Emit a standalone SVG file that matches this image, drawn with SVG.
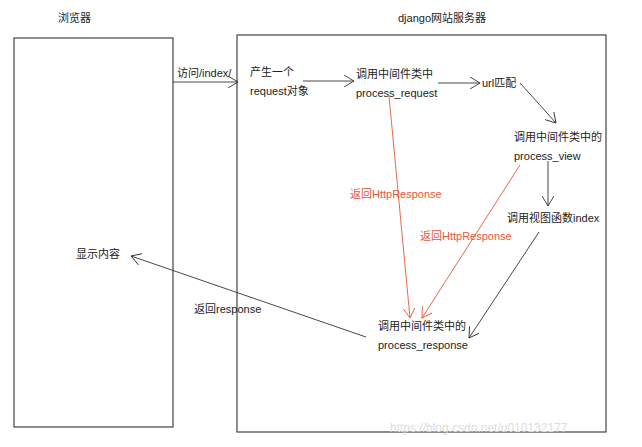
<svg xmlns="http://www.w3.org/2000/svg" width="642" height="447" viewBox="0 0 642 447">
<style>
text{font-family:"Liberation Sans","Noto Sans CJK SC",sans-serif;font-size:11px;fill:#222}
.red{fill:#e8553a}
.box{fill:none;stroke:#444;stroke-width:1.2}
.c{stroke:#333;stroke-width:0.9;fill:none}
.r{stroke:#e8553a;stroke-width:0.9;fill:none}
</style>
<defs>
<marker id="a" markerWidth="12" markerHeight="12" refX="10" refY="6" orient="auto" markerUnits="userSpaceOnUse"><path d="M0,0 L10,6 L0,12" fill="none" stroke="#333" stroke-width="0.9"/></marker>
<marker id="ar" markerWidth="12" markerHeight="12" refX="10" refY="6" orient="auto" markerUnits="userSpaceOnUse"><path d="M0,0 L10,6 L0,12" fill="none" stroke="#e8553a" stroke-width="0.9"/></marker>
</defs>
<rect width="642" height="447" fill="#fff"/>
<g id="browser"><rect class="box" x="14" y="38" width="159" height="389"/><text x="58" y="22">浏览器</text><text x="76" y="258">显示内容</text></g>
<g id="server"><rect class="box" x="237" y="35" width="369" height="397"/><text x="398" y="22">django网站服务器</text></g>
<g id="n-request"><text x="250" y="76">产生一个</text><text x="250" y="95">request对象</text></g>
<g id="n-preq"><text x="356" y="78">调用中间件类中</text><text x="356" y="97">process_request</text></g>
<g id="n-url"><text x="482" y="87">url匹配</text></g>
<g id="n-pview"><text x="514" y="141">调用中间件类中的</text><text x="514" y="160">process_view</text></g>
<g id="n-view"><text x="507" y="222">调用视图函数index</text></g>
<g id="n-presp"><text x="378" y="330">调用中间件类中的</text><text x="378" y="349">process_response</text></g>
<g id="connectors">
<line class="c" x1="173" y1="82" x2="238" y2="82" marker-end="url(#a)"/>
<text x="177" y="77">访问/index/</text>
<line class="c" x1="303" y1="81" x2="354" y2="81" marker-end="url(#a)"/>
<line class="c" x1="438" y1="83" x2="480" y2="83" marker-end="url(#a)"/>
<line class="c" x1="520" y1="83" x2="556" y2="123" marker-end="url(#a)"/>
<line class="c" x1="548" y1="161" x2="548" y2="206" marker-end="url(#a)"/>
<line class="c" x1="539" y1="232" x2="469" y2="338" marker-end="url(#a)"/>
<line class="r" x1="389" y1="96" x2="410" y2="318" marker-end="url(#ar)"/>
<line class="r" x1="520" y1="165" x2="422" y2="318" marker-end="url(#ar)"/>
<text class="red" x="350" y="198">返回HttpResponse</text>
<text class="red" x="420" y="240">返回HttpResponse</text>
<line class="c" x1="366" y1="337" x2="131" y2="256" marker-end="url(#a)"/>
<text x="194" y="313">返回response</text>
</g>
<text x="390" y="432" style="fill:#ddd;font-size:12px">https://blog.csdn.net/u010132177</text>
</svg>
